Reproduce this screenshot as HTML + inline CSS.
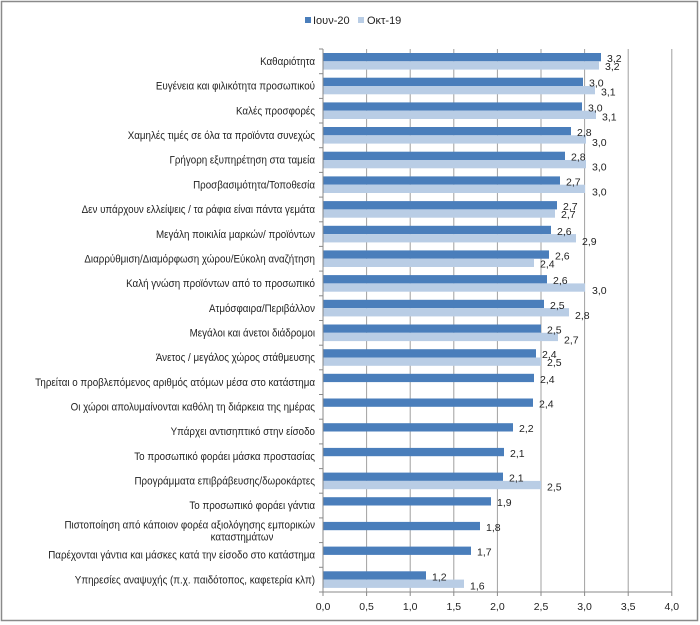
<!DOCTYPE html>
<html><head><meta charset="utf-8"><style>
html,body{margin:0;padding:0;background:#fff;}
svg{display:block;font-family:"Liberation Sans",Arial,sans-serif;}
</style></head><body>
<svg width="700" height="625" viewBox="0 0 700 625" xmlns="http://www.w3.org/2000/svg">
<rect x="1.5" y="1.5" width="696" height="619" fill="#fff" stroke="#8a8a8a" stroke-width="1.5"/>
<!-- legend -->
<rect x="305" y="17" width="6" height="6" fill="#4a7ebb"/>
<text x="313" y="24" font-size="11" fill="#222">Ιουν-20</text>
<rect x="358" y="17" width="6" height="6" fill="#b9cde5"/>
<text x="367" y="24" font-size="11" fill="#222">Οκτ-19</text>
<!-- grid -->
<g stroke="#a0a0a0" stroke-width="1">
<line x1="366.6" y1="49" x2="366.6" y2="592"/>
<line x1="410.2" y1="49" x2="410.2" y2="592"/>
<line x1="453.8" y1="49" x2="453.8" y2="592"/>
<line x1="497.4" y1="49" x2="497.4" y2="592"/>
<line x1="541" y1="49" x2="541" y2="592"/>
<line x1="584.6" y1="49" x2="584.6" y2="592"/>
<line x1="628.2" y1="49" x2="628.2" y2="592"/>
<line x1="671.8" y1="49" x2="671.8" y2="592"/>
</g>
<!-- bars -->
<g fill="#4a7ebb">
<rect x="323" y="53" width="278" height="8.3"/>
<rect x="323" y="77.7" width="260" height="8.3"/>
<rect x="323" y="102.4" width="259" height="8.3"/>
<rect x="323" y="127" width="248" height="8.3"/>
<rect x="323" y="151.7" width="242" height="8.3"/>
<rect x="323" y="176.4" width="237" height="8.3"/>
<rect x="323" y="201.1" width="234" height="8.3"/>
<rect x="323" y="225.8" width="228" height="8.3"/>
<rect x="323" y="250.4" width="226" height="8.3"/>
<rect x="323" y="275.1" width="224" height="8.3"/>
<rect x="323" y="299.8" width="221" height="8.3"/>
<rect x="323" y="324.5" width="218" height="8.3"/>
<rect x="323" y="349.2" width="213" height="8.3"/>
<rect x="323" y="373.8" width="211" height="8.3"/>
<rect x="323" y="398.5" width="210" height="8.3"/>
<rect x="323" y="423.2" width="190" height="8.3"/>
<rect x="323" y="447.9" width="181" height="8.3"/>
<rect x="323" y="472.6" width="180" height="8.3"/>
<rect x="323" y="497.2" width="168" height="8.3"/>
<rect x="323" y="521.9" width="157" height="8.3"/>
<rect x="323" y="546.6" width="148" height="8.3"/>
<rect x="323" y="571.3" width="103" height="8.3"/>
</g>
<g fill="#b9cde5">
<rect x="323" y="61.3" width="276" height="8.3"/>
<rect x="323" y="86" width="272" height="8.3"/>
<rect x="323" y="110.7" width="273" height="8.3"/>
<rect x="323" y="135.3" width="263" height="8.3"/>
<rect x="323" y="160" width="263" height="8.3"/>
<rect x="323" y="184.7" width="262" height="8.3"/>
<rect x="323" y="209.4" width="232" height="8.3"/>
<rect x="323" y="234.1" width="253" height="8.3"/>
<rect x="323" y="258.7" width="211" height="8.3"/>
<rect x="323" y="283.4" width="262" height="8.3"/>
<rect x="323" y="308.1" width="246" height="8.3"/>
<rect x="323" y="332.8" width="235" height="8.3"/>
<rect x="323" y="357.5" width="218" height="8.3"/>
<rect x="323" y="480.9" width="218" height="8.3"/>
<rect x="323" y="579.6" width="141" height="8.3"/>
</g>
<!-- axes -->
<g stroke="#888" stroke-width="1">
<line x1="323" y1="49" x2="323" y2="592"/>
<line x1="323" y1="592" x2="672" y2="592"/>
<line x1="319" y1="49" x2="323" y2="49"/><line x1="319" y1="73.7" x2="323" y2="73.7"/><line x1="319" y1="98.4" x2="323" y2="98.4"/><line x1="319" y1="123" x2="323" y2="123"/><line x1="319" y1="147.7" x2="323" y2="147.7"/><line x1="319" y1="172.4" x2="323" y2="172.4"/><line x1="319" y1="197.1" x2="323" y2="197.1"/><line x1="319" y1="221.8" x2="323" y2="221.8"/><line x1="319" y1="246.4" x2="323" y2="246.4"/><line x1="319" y1="271.1" x2="323" y2="271.1"/><line x1="319" y1="295.8" x2="323" y2="295.8"/><line x1="319" y1="320.5" x2="323" y2="320.5"/><line x1="319" y1="345.2" x2="323" y2="345.2"/><line x1="319" y1="369.8" x2="323" y2="369.8"/><line x1="319" y1="394.5" x2="323" y2="394.5"/><line x1="319" y1="419.2" x2="323" y2="419.2"/><line x1="319" y1="443.9" x2="323" y2="443.9"/><line x1="319" y1="468.6" x2="323" y2="468.6"/><line x1="319" y1="493.2" x2="323" y2="493.2"/><line x1="319" y1="517.9" x2="323" y2="517.9"/><line x1="319" y1="542.6" x2="323" y2="542.6"/><line x1="319" y1="567.3" x2="323" y2="567.3"/><line x1="319" y1="592" x2="323" y2="592"/>
<line x1="323" y1="592" x2="323" y2="596"/><line x1="366.6" y1="592" x2="366.6" y2="596"/><line x1="410.2" y1="592" x2="410.2" y2="596"/><line x1="453.8" y1="592" x2="453.8" y2="596"/><line x1="497.4" y1="592" x2="497.4" y2="596"/><line x1="541" y1="592" x2="541" y2="596"/><line x1="584.6" y1="592" x2="584.6" y2="596"/><line x1="628.2" y1="592" x2="628.2" y2="596"/><line x1="671.8" y1="592" x2="671.8" y2="596"/>
</g>
<g font-size="10.5" fill="#222" text-anchor="middle">
<text x="323" y="610">0,0</text><text x="366.6" y="610">0,5</text><text x="410.2" y="610">1,0</text><text x="453.8" y="610">1,5</text><text x="497.4" y="610">2,0</text><text x="541" y="610">2,5</text><text x="584.6" y="610">3,0</text><text x="628.2" y="610">3,5</text><text x="671.8" y="610">4,0</text>
</g>
<!-- value labels -->
<g font-size="10.5" fill="#222">
<text x="607" y="62">3,2</text><text x="605" y="70">3,2</text>
<text x="589" y="86.7">3,0</text><text x="601" y="95.7">3,1</text>
<text x="588" y="111.4">3,0</text><text x="602" y="120.4">3,1</text>
<text x="577" y="136">2,8</text><text x="592" y="146">3,0</text>
<text x="571" y="160.7">2,8</text><text x="592" y="170.7">3,0</text>
<text x="566" y="185.4">2,7</text><text x="592" y="195.4">3,0</text>
<text x="563" y="210.1">2,7</text><text x="561" y="218.1">2,7</text>
<text x="557" y="234.8">2,6</text><text x="582" y="244.8">2,9</text>
<text x="555" y="259.4">2,6</text><text x="540" y="267.4">2,4</text>
<text x="553" y="284.1">2,6</text><text x="592" y="294.1">3,0</text>
<text x="550" y="308.8">2,5</text><text x="575" y="318.8">2,8</text>
<text x="547" y="333.5">2,5</text><text x="564" y="343.5">2,7</text>
<text x="542" y="358.2">2,4</text><text x="547" y="366.2">2,5</text>
<text x="540" y="382.8">2,4</text>
<text x="539" y="407.5">2,4</text>
<text x="519" y="432.2">2,2</text>
<text x="510" y="456.9">2,1</text>
<text x="509" y="481.6">2,1</text><text x="547" y="490.6">2,5</text>
<text x="497" y="506.2">1,9</text>
<text x="486" y="530.9">1,8</text>
<text x="477" y="555.6">1,7</text>
<text x="432" y="580.3">1,2</text><text x="470" y="589.3">1,6</text>
</g>
<!-- category labels -->
<g font-size="11" fill="#222" text-anchor="end">
<text transform="translate(315,65) scale(0.89,1)">Καθαριότητα</text>
<text transform="translate(315,89.7) scale(0.89,1)">Ευγένεια και φιλικότητα προσωπικού</text>
<text transform="translate(315,114.4) scale(0.89,1)">Καλές προσφορές</text>
<text transform="translate(315,139) scale(0.89,1)">Χαμηλές τιμές σε όλα τα προϊόντα συνεχώς</text>
<text transform="translate(315,163.7) scale(0.89,1)">Γρήγορη εξυπηρέτηση στα ταμεία</text>
<text transform="translate(315,188.4) scale(0.89,1)">Προσβασιμότητα/Τοποθεσία</text>
<text transform="translate(315,213.1) scale(0.89,1)">Δεν υπάρχουν ελλείψεις / τα ράφια είναι πάντα γεμάτα</text>
<text transform="translate(315,237.8) scale(0.89,1)">Μεγάλη ποικιλία μαρκών/ προϊόντων</text>
<text transform="translate(315,262.4) scale(0.89,1)">Διαρρύθμιση/Διαμόρφωση χώρου/Εύκολη αναζήτηση</text>
<text transform="translate(315,287.1) scale(0.89,1)">Καλή γνώση προϊόντων από το προσωπικό</text>
<text transform="translate(315,311.8) scale(0.89,1)">Ατμόσφαιρα/Περιβάλλον</text>
<text transform="translate(315,336.5) scale(0.89,1)">Μεγάλοι και άνετοι διάδρομοι</text>
<text transform="translate(315,361.2) scale(0.89,1)">Άνετος / μεγάλος χώρος στάθμευσης</text>
<text transform="translate(315,385.8) scale(0.89,1)">Τηρείται ο προβλεπόμενος αριθμός ατόμων μέσα στο κατάστημα</text>
<text transform="translate(315,410.5) scale(0.89,1)">Οι χώροι απολυμαίνονται καθόλη τη διάρκεια της ημέρας</text>
<text transform="translate(315,435.2) scale(0.89,1)">Υπάρχει αντισηπτικό στην είσοδο</text>
<text transform="translate(315,459.9) scale(0.89,1)">Το προσωπικό φοράει μάσκα προστασίας</text>
<text transform="translate(315,484.6) scale(0.89,1)">Προγράμματα επιβράβευσης/δωροκάρτες</text>
<text transform="translate(315,509.2) scale(0.89,1)">Το προσωπικό φοράει γάντια</text>
<text transform="translate(315,528.5) scale(0.89,1)">Πιστοποίηση από κάποιον φορέα αξιολόγησης εμπορικών</text>
<text transform="translate(242,540.5) scale(0.89,1)" text-anchor="middle">καταστημάτων</text>
<text transform="translate(315,558.6) scale(0.89,1)">Παρέχονται γάντια και μάσκες κατά την είσοδο στο κατάστημα</text>
<text transform="translate(315,583.3) scale(0.89,1)">Υπηρεσίες αναψυχής (π.χ. παιδότοπος, καφετερία κλπ)</text>
</g>
</svg>
</body></html>
